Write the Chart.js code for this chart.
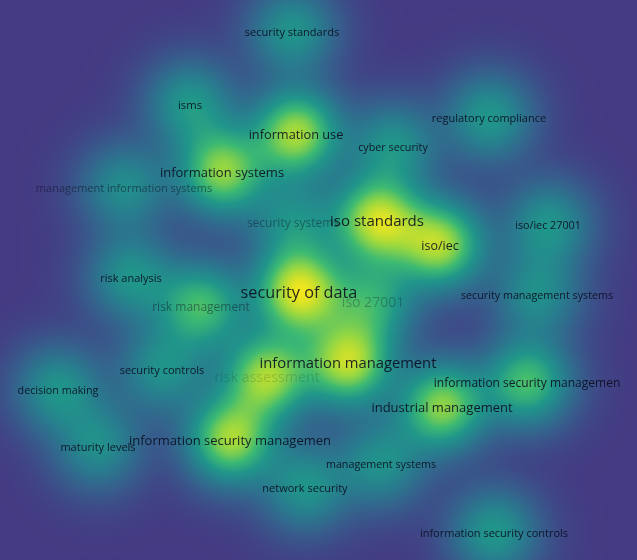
<!DOCTYPE html>
<html>
<head>
<meta charset="utf-8">
<script src="https://cdn.jsdelivr.net/npm/chart.js@4.4.1/dist/chart.umd.min.js"></script>
<style>
  html, body { margin: 0; padding: 0; background: #443a83; }
  #wrap { width: 637px; height: 560px; }
</style>
</head>
<body>
<div id="wrap"><canvas id="densityMap"></canvas></div>
<script>
// Keywords, their layout coordinates (map units), occurrences and density weight
const terms = [
    "security standards", "isms", "information use", "regulatory compliance", "cyber security",
    "information systems", "management information systems", "security systems", "iso standards", "iso/iec",
    "iso/iec 27001", "risk analysis", "security of data", "iso 27001", "risk management",
    "security management systems", "information management", "security controls", "risk assessment", "decision making",
    "information security managemen", "industrial management", "information security managemen", "maturity levels", "management systems",
    "network security", "information security controls"
];
const xs = [292, 190, 296, 489, 393, 222, 124, 293, 377, 440, 548, 131, 299, 373, 201, 537, 348, 162, 267, 58, 527, 442, 230, 98, 381, 305, 494];
const ys = [33, 106, 135, 119, 148, 173, 189, 224, 222, 246, 226, 279, 293, 303, 308, 296, 364, 371, 378, 391, 384, 408, 441, 448, 465, 489, 534];
const occurrences = [8, 9, 15, 8, 7, 16, 8, 12, 24, 14, 7, 8, 29, 20, 12, 7, 23, 8, 21, 7, 12, 16, 16, 8, 7, 8, 8];
const density = [0.4, 0.42, 0.82, 0.42, 0.4, 0.76, 0.36, 0.36, 0.88, 0.82, 0.4, 0.4, 0.95, 0.48, 0.6, 0.36, 0.85, 0.38, 0.8, 0.4, 0.62, 0.76, 0.8, 0.36, 0.38, 0.4, 0.42];

// labels drawn faded because they overlap a bigger one (index -> alpha)
const faded = { 6: 0.5, 7: 0.4, 13: 0.28, 14: 0.45, 18: 0.15 };

// viridis-like ramp used for density
const ramp = [
    [0.0, [68, 58, 131]],
    [0.2, [55, 92, 140]],
    [0.4, [40, 125, 142]],
    [0.55, [32, 150, 138]],
    [0.7, [60, 185, 115]],
    [0.85, [150, 215, 65]],
    [1.0, [240, 230, 30]]
];

function rampColor(t) {
    t = Math.max(0, Math.min(1, t));
    for (let i = 1; i < ramp.length; i++) {
        if (t <= ramp[i][0]) {
            const a = ramp[i - 1], b = ramp[i];
            const f = (t - a[0]) / (b[0] - a[0]);
            return [0, 1, 2].map(k => a[1][k] + (b[1][k] - a[1][k]) * f);
        }
    }
    return ramp[ramp.length - 1][1];
}

const densityPlugin = {
    id: 'density',
    beforeDatasetsDraw(chart) {
        const { ctx, chartArea, scales } = chart;
        const w = Math.round(chartArea.right - chartArea.left);
        const h = Math.round(chartArea.bottom - chartArea.top);
        const pts = xs.map((x, i) => ({
            px: scales.x.getPixelForValue(x) - chartArea.left,
            py: scales.y.getPixelForValue(ys[i]) - chartArea.top - 2,
            w: density[i]
        }));
        const sigma = 29;
        const s2 = 2 * sigma * sigma;
        const img = ctx.createImageData(w, h);
        for (let y = 0; y < h; y++) {
            for (let x = 0; x < w; x++) {
                let d = 0;
                for (const p of pts) {
                    const dx = x - p.px, dy = y - p.py;
                    const r = dx * dx + dy * dy;
                    if (r < 40000) d += p.w * Math.exp(-r / s2);
                }
                const c = rampColor(Math.pow(d, 0.7));
                const o = (y * w + x) * 4;
                img.data[o] = c[0];
                img.data[o + 1] = c[1];
                img.data[o + 2] = c[2];
                img.data[o + 3] = 255;
            }
        }
        ctx.putImageData(img, chartArea.left, chartArea.top);
    },
    afterDatasetsDraw(chart) {
        const { ctx, scales } = chart;
        ctx.save();
        ctx.textAlign = 'center';
        ctx.textBaseline = 'middle';
        terms.forEach((t, i) => {
            const size = 9 + 0.25 * occurrences[i];
            ctx.font = size.toFixed(2) + 'px "Open Sans"';
            const a = faded[i] !== undefined ? faded[i] : 0.88;
            ctx.fillStyle = 'rgba(10,10,30,' + a + ')';
            ctx.fillText(t, scales.x.getPixelForValue(xs[i]), scales.y.getPixelForValue(ys[i]));
        });
        ctx.restore();
    }
};

const ctx = document.getElementById('densityMap').getContext('2d');
new Chart(ctx, {
    type: 'scatter',
    data: {
        datasets: [{
            data: xs.map((x, i) => ({ x: x, y: ys[i] })),
            pointRadius: 0
        }]
    },
    options: {
        responsive: true,
        maintainAspectRatio: false,
        animation: false,
        layout: { padding: 0 },
        plugins: { legend: { display: false }, tooltip: { enabled: false } },
        scales: {
            x: { display: false, min: 0, max: 637 },
            y: { display: false, min: 0, max: 560, reverse: true }
        }
    },
    plugins: [densityPlugin]
});
</script>
</body>
</html>
